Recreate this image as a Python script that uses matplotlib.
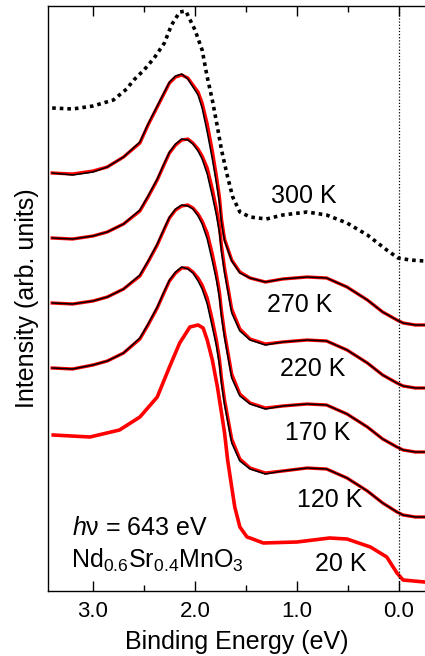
import matplotlib
matplotlib.use("Agg")
import matplotlib.pyplot as plt
from matplotlib.ticker import MultipleLocator, FixedLocator

plt.rcParams['font.family'] = ['Liberation Sans', 'DejaVu Sans']
plt.rcParams['mathtext.fontset'] = 'custom'
plt.rcParams['mathtext.rm'] = 'Liberation Sans'
plt.rcParams['mathtext.it'] = 'Liberation Sans:italic'

# ---------------- data (binding energy in eV, intensity in arb. units) -------------
temps = ["300 K", "270 K", "220 K", "170 K", "120 K", "20 K"]
offsets = [330, 266, 203, 139, 74, 9]

# common energy grid for 270-120 K spectra
energy = [3.40, 3.20, 3.00, 2.86, 2.70, 2.54, 2.46, 2.37, 2.30, 2.25, 2.19, 2.13,
          2.07, 2.02, 1.97, 1.93, 1.88, 1.83, 1.79, 1.76, 1.74, 1.71, 1.64, 1.56,
          1.46, 1.31, 1.14, 0.90, 0.71, 0.51, 0.31, 0.16, 0.02, -0.04, -0.16, -0.25]

i270_red = [152, 151, 154, 158, 168, 182, 200, 218, 232, 242, 248, 250, 247, 240, 233, 222,
            201, 174, 149, 128, 106, 86, 65, 53, 47, 43, 46, 48, 47, 38, 25, 13, 5, 2, 0, 0]
i270_blk = [152, 150, 153, 158, 168, 183, 201, 219, 233, 243, 249, 251, 246, 238, 230, 217,
            193, 166, 142, 122, 102, 84, 64, 52, 47, 43, 46, 48, 47, 38, 25, 13, 5, 2, 0, 0]
i220_red = [150, 149, 152, 156, 164, 177, 191, 208, 224, 235, 243, 248, 249, 245, 239, 232,
            220, 199, 179, 161, 142, 120, 79, 59, 49, 44, 46, 48, 47, 38, 25, 13, 5, 2, 0, 0]
i220_blk = [150, 149, 152, 156, 164, 178, 192, 209, 225, 236, 244, 249, 248, 244, 237, 229,
            214, 192, 173, 155, 136, 115, 75, 57, 48, 43, 46, 48, 47, 38, 25, 13, 5, 2, 0, 0]
i170_red = [149, 148, 151, 155, 163, 176, 190, 207, 223, 234, 242, 246, 247, 244, 238, 231,
            219, 198, 178, 160, 141, 119, 78, 58, 49, 44, 46, 48, 47, 38, 25, 13, 5, 2, 0, 0]
i170_blk = [149, 148, 151, 155, 163, 177, 191, 208, 224, 235, 243, 247, 246, 243, 236, 228,
            213, 191, 172, 154, 135, 114, 74, 56, 48, 43, 46, 48, 47, 38, 25, 13, 5, 2, 0, 0]
i120_red = [149, 148, 152, 156, 164, 178, 192, 209, 225, 236, 244, 249, 249, 245, 239, 232,
            219, 197, 177, 158, 139, 117, 78, 58, 49, 44, 46, 49, 48, 39, 26, 14, 5, 2, 0, 0]
i120_blk = [149, 148, 152, 156, 164, 179, 193, 210, 226, 237, 245, 250, 248, 244, 236, 228,
            213, 190, 171, 152, 133, 112, 74, 56, 48, 43, 46, 49, 48, 39, 26, 14, 5, 2, 0, 0]

# 300 K spectrum (dotted)
energy_300 = [3.40, 3.20, 3.00, 2.80, 2.67, 2.60, 2.50, 2.40, 2.30, 2.23, 2.15, 2.09, 2.00,
              1.93, 1.88, 1.83, 1.78, 1.74, 1.68, 1.63, 1.56, 1.46, 1.30, 1.14, 0.90, 0.71,
              0.51, 0.31, 0.12, 0.01, -0.11, -0.25]
i300 = [153, 152, 155, 161, 172, 181, 191, 203, 218, 236, 249, 250, 231, 211, 184, 161, 134,
        111, 84, 64, 49, 44, 42, 46, 49, 46, 38, 26, 11, 3, 1, 0]

# 20 K spectrum (red only)
energy_20 = [3.39, 3.03, 2.74, 2.54, 2.37, 2.25, 2.15, 2.05, 1.97, 1.92, 1.88, 1.83, 1.78,
             1.74, 1.71, 1.68, 1.64, 1.61, 1.56, 1.49, 1.46, 1.33, 1.00, 0.68, 0.51, 0.28,
             0.12, 0.02, -0.04, -0.25]
i20 = [147, 145, 152, 165, 185, 215, 239, 255, 257, 254, 242, 222, 195, 169, 149, 122, 95,
       75, 55, 45, 44, 39, 40, 44, 43, 35, 25, 9, 2, 0]

# ---------------- figure ----------------
fig = plt.figure(figsize=(4.25, 6.56), dpi=100)
ax = fig.add_axes([48 / 425, 65 / 656, 377 / 425, 585 / 656])

red = '#ff0000'
# 300 K dotted
ax.plot(energy_300, [v + offsets[0] for v in i300], color='black', lw=2.6,
        linestyle=(0, (1.0, 1.1)), dash_capstyle='butt')

pairs = [(i270_red, i270_blk), (i220_red, i220_blk), (i170_red, i170_blk), (i120_red, i120_blk)]
for k, (r, b) in enumerate(pairs):
    off = offsets[k + 1]
    ax.plot(energy, [v + off for v in r], color=red, lw=2.4, solid_joinstyle='round')
    ax.plot(energy, [v + off for v in b], color='black', lw=1.1, solid_joinstyle='round')

ax.plot(energy_20, [v + offsets[5] for v in i20], color=red, lw=2.6, solid_joinstyle='round')

# Fermi level
ax.axvline(0.0, color='black', lw=0.9, linestyle=(0, (1, 1.5)))

# temperature labels
label_pos = [(0.93, 395), (0.97, 286), (0.85, 222), (0.80, 158), (0.68, 91), (0.57, 27)]
for t, (xe, yv) in zip(temps, label_pos):
    ax.text(xe, yv, t, fontsize=18, ha='center', va='center')

ax.text(3.21, 56, r'$h$ν = 643 eV', fontsize=18, ha='left', va='baseline')
ax.text(3.22, 23, r'Nd$_{0.6}$Sr$_{0.4}$MnO$_3$', fontsize=18, ha='left', va='baseline')

ax.set_xlim(3.441, -0.255)
ax.set_ylim(0, 585)
ax.xaxis.set_major_locator(FixedLocator([3.0, 2.0, 1.0, 0.0]))
ax.xaxis.set_minor_locator(MultipleLocator(0.5))
ax.set_xticklabels(['3.0', '2.0', '1.0', '0.0'])
ax.tick_params(axis='x', which='both', direction='in', top=True, bottom=True,
               labelsize=16, pad=7, width=1.0)
ax.tick_params(axis='x', which='major', length=7.5)
ax.tick_params(axis='x', which='minor', length=4)
ax.tick_params(axis='y', which='both', left=False, right=False, labelleft=False)
for s in ['left', 'top', 'bottom']:
    ax.spines[s].set_linewidth(1.0)
ax.spines['right'].set_visible(False)

ax.set_xlabel('Binding Energy (eV)', fontsize=18, labelpad=6)
ax.set_ylabel('Intensity (arb. units)', fontsize=18)
ax.yaxis.set_label_coords(-0.025, 0.5)

fig.savefig('out.png', dpi=100)
